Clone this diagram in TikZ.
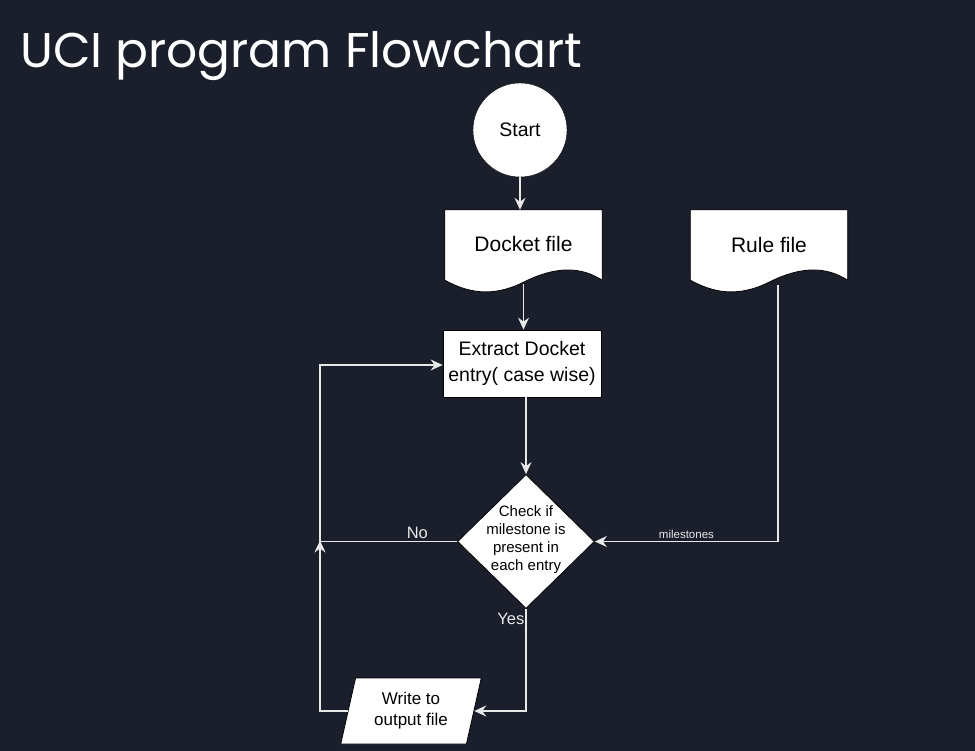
\documentclass[tikz,border=0pt]{standalone}
\usepackage{fontspec}
\setmainfont{Liberation Sans}
\newfontfamily\titlefont{Poppins}
\usetikzlibrary{shapes.geometric,arrows.meta,backgrounds}

\definecolor{bgdark}{RGB}{27,31,43}
\definecolor{linegray}{RGB}{232,232,232}

\tikzstyle{startstyle} = [circle, fill=white, draw=black, minimum size=94pt, inner sep=0, font=\fontsize{19.5}{22}\selectfont]
\tikzstyle{docstyle} = [rectangle, minimum width=157pt, minimum height=70pt, inner sep=0, font=\fontsize{21}{24}\selectfont]
\tikzstyle{docshape} = [fill=white, draw=black, line width=0.8pt]
\tikzstyle{boxstyle} = [rectangle, fill=white, draw=black, line width=0.8pt, minimum width=158pt, minimum height=67pt, inner sep=0, align=center, font=\fontsize{19.5}{26}\selectfont]
\tikzstyle{checkstyle} = [diamond, fill=white, draw=black, line width=0.8pt, minimum width=137pt, minimum height=134pt, inner sep=0]
\tikzstyle{iostyle} = [trapezium, trapezium left angle=75, trapezium right angle=105, trapezium stretches=true, fill=white, draw=black, line width=0.8pt, minimum width=142pt, minimum height=66pt, inner sep=0, align=center, font=\fontsize{17}{21}\selectfont]
\tikzstyle{flow} = [draw=linegray, line width=1.3pt, -{Stealth[length=12pt, width=11pt, inset=4pt]}]
\tikzstyle{flowline} = [draw=linegray, line width=1.3pt]
\tikzstyle{labelstyle} = [text=linegray, inner sep=2pt, font=\fontsize{16.5}{18}\selectfont]

\begin{document}
\begin{tikzpicture}[x=1pt, y=-1pt]
  \useasboundingbox (0,0) rectangle (975,751);

  \node at (20,68) [anchor=base west, text=white, inner sep=0, font=\titlefont\fontsize{48.7}{56}\selectfont] (title) {UCI program Flowchart};

  \node at (520,130) [startstyle] (start) {Start};

  \node at (523.5,245) [docstyle] (docket) {\raisebox{2pt}{Docket file}};
  \node at (769,245) [docstyle] (rule) {Rule file};

  \node at (522,363.5) [boxstyle] (extract) {Extract Docket\\entry( case wise)};

  \node at (526,541.5) [checkstyle] (check) {};
  \node at ([yshift=2pt]check) [align=center, inner sep=0, font=\fontsize{15}{18}\selectfont] (checktext) {Check if\\milestone is\\present in\\each entry};

  \node at (411,711) [iostyle] (write) {Write to\\output file};

  \coordinate (merge) at (320,541.5);

  % document shapes behind the texts
  \begin{scope}[on background layer]
    \fill[bgdark] (0,0) rectangle (975,751);
    \foreach \doc in {docket, rule} {
      \path[docshape] (\doc.north west) -- (\doc.north east) -- (\doc.south east)
        .. controls +(-22,-14) and +(32,-16) .. ([yshift=-2pt]\doc.south)
        .. controls +(-32,16) and +(22,12) .. (\doc.south west) -- cycle;
    }
  \end{scope}

  \draw[flow] (start) -- (start |- docket.north);
  \draw[flow] ([yshift=-4pt]docket.south) -- (docket.south |- extract.north);
  \draw[flow] (check.north |- extract.south) -- (check.north);

  \draw[flowline] (check.west) -- node[labelstyle, above, pos=0.29] {No} (merge);
  \draw[flow] (merge) |- ([yshift=-1.5pt]extract.west);
  \draw[flow, shorten >=-1pt] (write.west) -| (merge);

  \draw[flow] (check.south) |- node[labelstyle, pos=0.05, anchor=east, inner sep=1pt] {Yes} (write.east);

  \draw[flow] ([xshift=9pt, yshift=-5pt]rule.south) |- node[labelstyle, above, pos=0.75, font=\fontsize{11.5}{13}\selectfont] {milestones} (check.east);
\end{tikzpicture}
\end{document}
